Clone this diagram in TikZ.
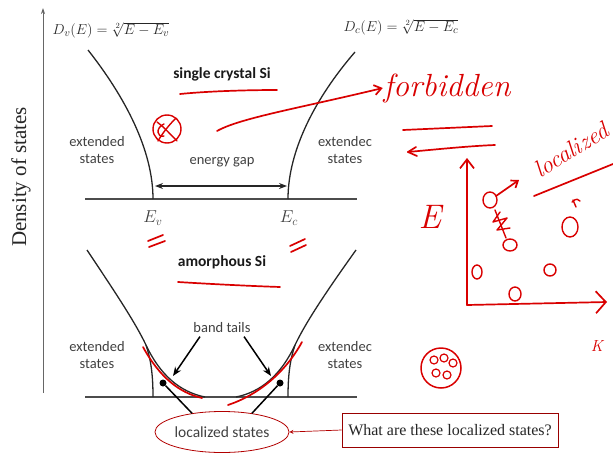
\documentclass[tikz,border=0pt]{standalone}
\usepackage{fontspec}
\setsansfont{Carlito}
\newfontfamily\slidefont{Liberation Serif}
\usetikzlibrary{arrows.meta,shapes.geometric}
\begin{document}
\begin{tikzpicture}[x=1pt,y=-1pt,
  lbl/.style={font=\sffamily\fontsize{14.5}{17}\selectfont, text=black!75, align=center},
  ttl/.style={font=\sffamily\bfseries\fontsize{15.5}{17}\selectfont, text=black!90},
  frm/.style={font=\fontsize{15.5}{17}\selectfont, text=black!85},
  curve/.style={black!85, line width=1.3pt},
  base/.style={black!70, line width=1.6pt},
  ink/.style={red!85!black, line width=1.7pt, line cap=round, line join=round},
  blob/.style={ink, line width=1.4pt},
  dot/.style={circle, fill=black, inner sep=0pt, minimum size=7pt}]
\useasboundingbox (0,0) rectangle (613,455);

% axis and its label
\coordinate (axbot) at (43,393);
\coordinate (axtop) at (43,8);
\draw[black!60, line width=0.8pt, -{Stealth[length=6pt,width=4pt]}] (axbot) -- (axtop);
\node[font=\slidefont\fontsize{21}{21}\selectfont, rotate=90, text=black!85] (dos) at (21,177) {Density of states};

% formulas
\node[frm] (dv) at (111,30) {$D_v(E) = \sqrt[2]{E - E_v}$};
\node[frm] (dc) at (401,27) {$D_c(E) = \sqrt[2]{E - E_c}$};

% ---- single crystal ----
\draw[base] (85,199) -- (357,199);
\draw[curve] (88,50) .. controls (125,97) and (153,150) .. (153,199);
\draw[curve] (355,52) .. controls (316,97) and (288,150) .. (288,199);
\node[ttl] (sc) at (222,74) {single crystal Si};
\node[lbl] (extL) at (97,150) {extended\\states};
\node[lbl] (extR) at (345,150) {extendec\\states};
\node[lbl] (gap) at (222,162) {energy gap};
\coordinate (gapL) at (155,186);
\coordinate (gapR) at (287,186);
\draw[black!85, line width=1.3pt, {Stealth[length=8pt]}-{Stealth[length=8pt]}] (gapL) -- (gapR);
\node[font=\fontsize{17}{17}\selectfont, text=black!75] (ev) at (153,218) {$E_v$};
\node[font=\fontsize{17}{17}\selectfont, text=black!75] (ec) at (289,218) {$E_c$};

% ---- amorphous ----
\draw[base] (85,397) -- (357,397);
\draw[curve] (87,250) .. controls (115,292) and (135,322) .. (146,345)
  .. controls (160,375) and (180,392) .. (205,397);
\draw[curve] (146,345) .. controls (151,360) and (153,375) .. (153,397);
\draw[curve] (356,250) .. controls (326,292) and (306,322) .. (295,345)
  .. controls (281,375) and (261,392) .. (236,397);
\draw[curve] (295,345) .. controls (290,360) and (288,375) .. (288,397);
\node[ttl] (am) at (222,262) {amorphous Si};
\node[lbl] (extL2) at (97,355) {extended\\states};
\node[lbl] (extR2) at (345,355) {extendec\\states};
\node[lbl] (tails) at (222,328) {band tails};
\coordinate (tailL) at (173,376);
\coordinate (tailR) at (271,376);
\draw[black, line width=1.5pt, -{Stealth[length=9pt,width=7pt]}] ([xshift=10pt]tails.south west) -- (tailL);
\draw[black, line width=1.5pt, -{Stealth[length=9pt,width=7pt]}] ([xshift=-10pt]tails.south east) -- (tailR);
\node[dot] (dotL) at (163,383) {};
\node[dot] (dotR) at (280,383) {};
\node[ellipse, draw=red!70!black, line width=0.8pt, minimum width=132pt, minimum height=41pt, inner sep=0pt, lbl, font=\sffamily\fontsize{15.5}{17}\selectfont] (loc) at (222,432) {localized states};
\draw[black, line width=1.5pt] (dotL) -- (loc.148);
\draw[black, line width=1.5pt] (dotR) -- (loc.32);
\node[draw=red!60!black, line width=0.8pt, fill=white, minimum width=216pt, minimum height=34pt,
  font=\slidefont\fontsize{16}{18}\selectfont, text=black!85] (q) at (450,430) {What are these localized states?};
\draw[red!70!black, line width=0.7pt, -{Stealth[length=4pt,width=4pt]}] (q.west) -- (loc.east);

% ---- handwritten notes ----
\draw[ink] (180,94) .. controls (210,91) and (250,90) .. (277,90);
\draw[ink] (178,282) .. controls (210,284) and (250,286) .. (280,287);
\draw[ink] (148,241) -- (163,235);
\draw[ink] (149,247) -- (165,241);
\draw[ink] (290,246) -- (305,239);
\draw[ink] (291,252) -- (306,245);
\draw[ink] (143,347) .. controls (160,378) and (180,393) .. (202,398);
\draw[ink] (228,405) .. controls (258,395) and (285,373) .. (302,342);
% crossed circle
\draw[ink, line width=1.4pt] (167,129) circle (14);
\draw[ink, line width=1.4pt] (157,122) .. controls (165,128) and (170,134) .. (177,141);
\draw[ink, line width=1.4pt] (176,118) .. controls (168,126) and (162,134) .. (158,141);
\draw[ink, line width=1.4pt] (164,124) .. controls (155,128) and (157,138) .. (164,136);
% arrow to forbidden
\node[ink, font=\itshape\fontsize{32}{32}\selectfont, inner sep=0pt] (forb) at (447,88) {forbidden};
\coordinate (crossend) at (217,131);
\draw[ink, -{Straight Barb[length=7pt,width=10pt]}] (crossend) .. controls (240,118) and (300,108) .. (forb.west);
\draw[ink] (403,130) -- (492,126);
\draw[ink] (408,152) .. controls (440,149) and (470,146) .. (495,145);
\draw[ink] (416,147) -- (408,152) -- (417,156);
% E-k sketch
\coordinate (origin) at (467,305);
\coordinate (Etop) at (467,158);
\coordinate (kend) at (607,302);
\draw[ink, -{Straight Barb[length=9pt,width=14pt]}] (origin) -- (Etop);
\draw[ink, -{Straight Barb[length=10pt,width=22pt]}] (origin) -- (kend);
\node[ink, font=\itshape\fontsize{34}{34}\selectfont] (Elbl) at (430,217) {E};
\node[ink, font=\itshape\fontsize{16}{16}\selectfont] (klbl) at (597,346) {K};
\node[ink, font=\itshape\fontsize{24}{24}\selectfont, rotate=32, inner sep=0pt] (locnote) at (571,150) {localized};
\draw[ink] (534,196) -- (613,164);
\draw[blob] (490,200) ellipse (7 and 8);
\coordinate (arrowtip) at (519,180);
\draw[ink, -{Straight Barb[length=6pt,width=9pt]}] (496,196) -- (arrowtip);
\draw[blob] (495,210) -- (506,238);
\draw[blob] (500,212) -- (493,222) -- (507,218) -- (497,230) -- (510,228);
\draw[blob] (510,245) ellipse (7 and 6);
\draw[blob] (477,272) ellipse (5 and 7);
\draw[blob] (550,270) ellipse (6 and 6);
\draw[blob] (515,294) ellipse (6 and 7);
\draw[blob] (570,227) ellipse (8 and 10);
\draw[blob] (573,200) -- (576,207);
\draw[blob] (572,202) .. controls (576,198) and (579,199) .. (580,201);
% cluster circle
\draw[ink, line width=1.5pt] (441,368) circle (20);
\foreach \cx/\cy in {434/360, 444/358, 453/363, 436/373, 447/375} {
  \draw[blob, line width=1.2pt] (\cx,\cy) ellipse (4 and 4);
}
\end{tikzpicture}
\end{document}
